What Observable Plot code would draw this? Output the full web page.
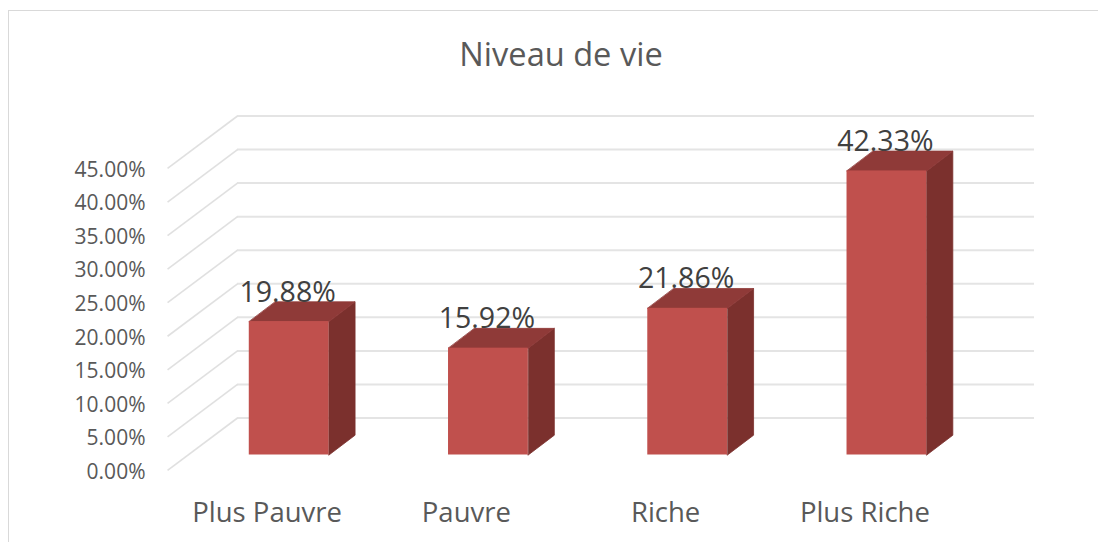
<!DOCTYPE html>
<html>
<head>
<meta charset="utf-8">
<script src="https://cdn.jsdelivr.net/npm/d3@7"></script>
<script src="https://cdn.jsdelivr.net/npm/@observablehq/plot@0.6"></script>
<style>
  html, body { margin: 0; padding: 0; background: #fff; overflow: hidden; }
  body { width: 1098px; height: 542px; position: relative; font-family: "Open Sans", sans-serif; }
  #frame { position: absolute; left: 8px; top: 10px; right: -3px; bottom: -3px; border: 1.5px solid #d9d9d9; pointer-events: none; }
  #title { height: 90px; box-sizing: border-box; padding: 32px 0 0 24px; text-align: center; font-size: 32.6px; line-height: 44px; color: #595959; }
  svg { display: block; }
</style>
</head>
<body>
<div id="frame"></div>
<div id="title">Niveau de vie</div>
<div id="chart"></div>
<script>
const title = "Niveau de vie";
const categories = ["Plus Pauvre", "Pauvre", "Riche", "Plus Riche"];
const values = [19.88, 15.92, 21.86, 42.33];
const yTicks = [0, 5, 10, 15, 20, 25, 30, 35, 40, 45];

const colors = { front: "#c0504d", top: "#8f3a38", side: "#7b302d", grid: "#e4e4e4", wall: "#e0e0e0" };

// Oblique depth, in scale units
const barDepth = { x: 0.131, y: 2.95 };
const wallDepth = { x: -0.351, y: -7.82 };

const rows = categories.map((name, i) => ({ name, value: values[i], x1: i + 0.3, x2: i + 0.7, mid: i + 0.5 }));
const topFaces = rows.flatMap(d => [
  { name: d.name, x: d.x1, y: d.value },
  { name: d.name, x: d.x2, y: d.value },
  { name: d.name, x: d.x2 + barDepth.x, y: d.value + barDepth.y },
  { name: d.name, x: d.x1 + barDepth.x, y: d.value + barDepth.y }
]);
const sideFaces = rows.flatMap(d => [
  { name: d.name, x: d.x2, y: 0 },
  { name: d.name, x: d.x2 + barDepth.x, y: barDepth.y },
  { name: d.name, x: d.x2 + barDepth.x, y: d.value + barDepth.y },
  { name: d.name, x: d.x2, y: d.value }
]);
const barShift = { dx: -48, dy: 37 };

const chart = Plot.plot({
  width: 1098,
  height: 452,
  marginTop: 25.5,
  marginBottom: 124.5,
  marginLeft: 237,
  marginRight: 64,
  style: { background: "transparent", fontFamily: "'Open Sans', sans-serif", overflow: "visible" },
  x: { type: "linear", domain: [0, categories.length] },
  y: { domain: [0, 45] },
  marks: [
    Plot.ruleY(yTicks, { x1: 0, x2: categories.length, stroke: colors.grid, strokeWidth: 2 }),
    Plot.link(yTicks, { x1: 0, y1: d => d, x2: wallDepth.x, y2: d => d + wallDepth.y, stroke: colors.wall, strokeWidth: 1.6 }),
    Plot.axisY({ ticks: yTicks, tickFormat: d => d.toFixed(2) + "%", tickSize: 0, tickPadding: 92, dy: 54, fontSize: 21, color: "#595959", label: null, textStroke: "none" }),
    Plot.axisX({ ticks: rows.map(d => d.mid), tickFormat: d => categories[Math.floor(d)], tickSize: 0, tickPadding: 84, dx: -70, fontSize: 27.5, color: "#595959", label: null }),
    Plot.line(sideFaces, { x: "x", y: "y", z: "name", fill: colors.side, stroke: colors.side, strokeWidth: 0.8, curve: "linear-closed", ...barShift }),
    Plot.line(topFaces, { x: "x", y: "y", z: "name", fill: colors.top, stroke: colors.top, strokeWidth: 0.8, curve: "linear-closed", ...barShift }),
    Plot.rect(rows, { x1: "x1", x2: "x2", y1: 0, y2: "value", fill: colors.front, ...barShift }),
    Plot.text(rows, { x: "mid", y: "value", text: d => d.value.toFixed(2) + "%", dx: -49.5, dy: 8, fontSize: 28.5, fill: "#404040" })
  ]
});
document.getElementById("chart").appendChild(chart);
</script>
</body>
</html>
